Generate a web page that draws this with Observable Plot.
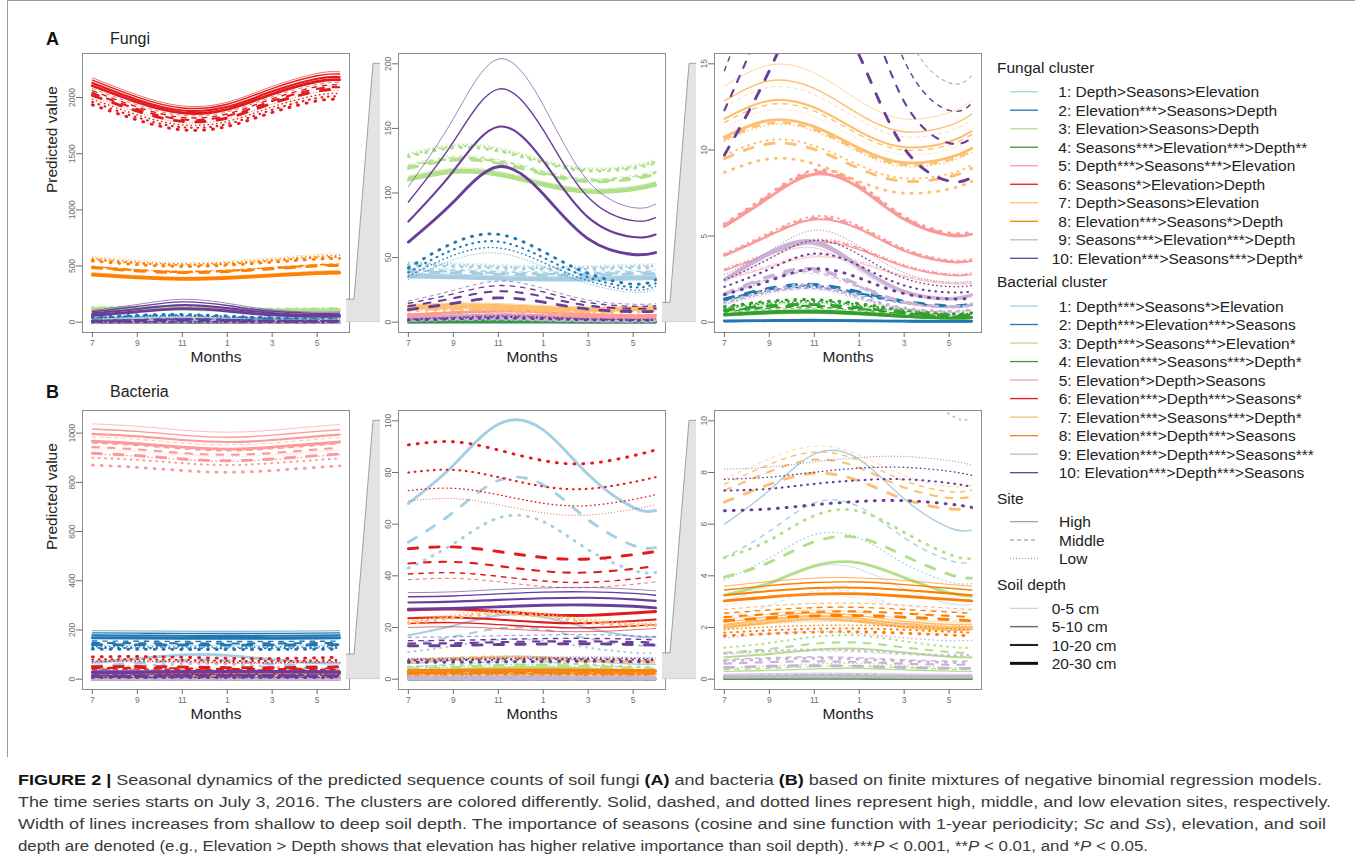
<!DOCTYPE html>
<html><head><meta charset="utf-8">
<script src="https://cdn.jsdelivr.net/npm/d3@7"></script>
<script src="https://cdn.jsdelivr.net/npm/@observablehq/plot@0.6"></script>
<style>
body{margin:0;background:#fff;font-family:"Liberation Sans",Arial,sans-serif;}
#root{position:relative;width:1355px;height:860px;overflow:hidden;background:#fff;}
#root svg{position:absolute;}
</style></head><body><div id="root"></div>
<script>
// ---------- data ----------
const sampleMonths = [0, 2, 4, 6, 8, 10, 11];          // months after July 3, 2016
const monthTicks = [0, 2, 4, 6, 8, 10];
const monthLabels = ["7", "9", "11", "1", "3", "5"];
const sites = ["High", "Middle", "Low"];
const depths = ["0-5 cm", "5-10 cm", "10-20 cm", "20-30 cm"];
const clusterColors = ["#a6cee3","#1f78b4","#b2df8a","#33a02c","#fb9a99","#e31a1c","#fdbf6f","#ff7f00","#cab2d6","#6a3d9a"];
const fungalClusterLabels = ["1: Depth>Seasons>Elevation","2: Elevation***>Seasons>Depth","3: Elevation>Seasons>Depth","4: Seasons***>Elevation***>Depth**","5: Depth***>Seasons***>Elevation","6: Seasons*>Elevation>Depth","7: Depth>Seasons>Elevation","8: Elevation***>Seasons*>Depth","9: Seasons***>Elevation***>Depth","10: Elevation***>Seasons***>Depth*"];
const bacterialClusterLabels = ["1: Depth***>Seasons*>Elevation","2: Depth***>Elevation***>Seasons","3: Depth***>Seasons**>Elevation*","4: Elevation***>Seasons***>Depth*","5: Elevation*>Depth>Seasons","6: Elevation***>Depth***>Seasons*","7: Elevation***>Seasons***>Depth*","8: Elevation***>Depth***>Seasons","9: Elevation***>Depth***>Seasons***","10: Elevation***>Depth***>Seasons"];
const fungiYTicks = [[0,500,1000,1500,2000],[0,50,100,150,200],[0,5,10,15]];
const bactYTicks = [[0,200,400,600,800,1000],[0,20,40,60,80,100],[0,2,4,6,8,10]];
const fungiYLim = [2300, 200, 15];
const bactYLim = [1050, 100, 10];

// rows: High 0-5,5-10,10-20,20-30 | Middle ... | Low ... ; values at sampleMonths
const fungi1 = [
[38,37.2,36.1,35.3,35.5,36.3,36.7],[37,36.3,35.2,34.4,34.6,35.3,35.7],[36,35.3,34.2,33.5,33.7,34.4,34.7],[35,34.3,33.3,32.6,32.7,33.4,33.8],
[42,41.2,39.9,39.1,39.3,40.1,40.5],[41,40.2,39,38.1,38.3,39.2,39.6],[40,39.2,38,37.2,37.4,38.2,38.6],[39,38.2,37.1,36.3,36.5,37.2,37.6],
[47,46.1,44.7,43.7,43.9,44.9,45.4],[46,45.1,43.7,42.8,43,43.9,44.4],[45,44.1,42.8,41.9,42.1,43,43.4],[44,43.1,41.8,40.9,41.1,42,42.5]];
const fungi2 = [
[0.05,0.07,0.08,0.07,0.05,0.04,0.04],[0.055,0.08,0.09,0.07,0.05,0.04,0.04],[0.06,0.09,0.1,0.08,0.05,0.04,0.05],[0.065,0.09,0.11,0.08,0.06,0.05,0.05],
[1.2,1.75,1.94,1.56,1.08,0.84,0.94],[1.25,1.83,2.03,1.63,1.13,0.88,0.98],[1.3,1.9,2.11,1.69,1.17,0.91,1.01],[1.35,1.97,2.19,1.76,1.22,0.95,1.05],
[33,48.2,53.5,42.9,29.7,23.1,25.7],[35.5,51.8,57.5,46.2,32,24.9,27.7],[38.5,56.2,62.4,50,34.7,27,30],[42,61.3,68,54.6,37.8,29.4,32.8]];
const fungi3 = [
[113,119.1,116.8,108.8,103.3,105.2,108.8],[112,118,115.8,107.9,102.4,104.3,107.9],[111,117,114.8,106.9,101.5,103.3,106.9],[110,115.9,113.7,105.9,100.5,102.4,105.9],
[122,128.6,126.1,117.5,111.5,113.6,117.5],[121,127.5,125.1,116.5,110.6,112.7,116.5],[120,126.5,124.1,115.6,109.7,111.7,115.6],[119,125.4,123,114.6,108.8,110.8,114.6],
[131,138.1,135.5,126.2,119.7,122,126.2],[130,137,134.4,125.2,118.8,121,125.2],[129,136,133.4,124.2,117.9,120.1,124.2],[128,134.9,132.4,123.3,117,119.2,123.3]];
const fungi4 = [
[0.35,0.47,0.51,0.42,0.28,0.19,0.21],[0.38,0.51,0.55,0.46,0.3,0.21,0.23],[0.42,0.57,0.61,0.5,0.34,0.23,0.25],[0.45,0.61,0.65,0.54,0.36,0.25,0.27],
[0.55,0.74,0.8,0.66,0.44,0.3,0.33],[0.6,0.81,0.87,0.72,0.48,0.33,0.36],[0.65,0.88,0.94,0.78,0.52,0.36,0.39],[0.7,0.95,1.02,0.84,0.56,0.39,0.42],
[0.75,1.01,1.09,0.9,0.6,0.41,0.45],[0.8,1.08,1.16,0.96,0.64,0.44,0.48],[0.85,1.15,1.23,1.02,0.68,0.47,0.51],[0.9,1.22,1.31,1.08,0.72,0.5,0.54]];
const fungi5 = [
[2.45,3.2,3.79,3.44,2.64,2.22,2.26],[3,3.92,4.64,4.22,3.23,2.72,2.76],[3.85,5.03,5.96,5.41,4.14,3.5,3.55],[5.55,7.25,8.59,7.8,5.97,5.04,5.11],
[2.5,3.27,3.87,3.51,2.69,2.27,2.3],[3.05,3.98,4.72,4.29,3.28,2.77,2.81],[3.9,5.09,6.04,5.48,4.2,3.54,3.59],[5.62,7.34,8.7,7.9,6.05,5.1,5.18],
[2.55,3.33,3.95,3.58,2.74,2.32,2.35],[3.1,4.05,4.8,4.36,3.34,2.81,2.86],[3.97,5.18,6.15,5.58,4.27,3.6,3.66],[5.7,7.44,8.82,8.01,6.13,5.18,5.25]];
const fungi6 = [
[2175,2023,1925,1958,2099,2214,2229],[2155,2004,1907,1940,2080,2194,2209],[2130,1981,1885,1917,2055,2168,2183],[2105,1958,1863,1895,2031,2143,2158],
[2080,1934,1841,1872,2007,2117,2132],[2060,1916,1823,1854,1988,2097,2112],[2040,1897,1805,1836,1969,2077,2091],[2020,1879,1788,1818,1949,2056,2071],
[2010,1869,1779,1809,1940,2046,2060],[1985,1846,1757,1787,1916,2021,2035],[1960,1823,1735,1764,1891,1995,2009],[1935,1800,1712,1742,1867,1970,1983]];
const fungi7 = [
[13.7,14.93,14.47,12.86,11.8,12.17,12.86],[12.85,14.01,13.57,12.07,11.06,11.41,12.07],[11.8,12.86,12.46,11.08,10.16,10.48,11.08],[10.75,11.72,11.35,10.09,9.26,9.55,10.09],
[12.5,13.63,13.2,11.74,10.76,11.1,11.74],[11.6,12.64,12.25,10.89,9.99,10.3,10.89],[10.6,11.55,11.19,9.95,9.13,9.41,9.95],[9.5,10.36,10.03,8.92,8.18,8.44,8.92],
[11.3,12.32,11.93,10.61,9.73,10.03,10.61],[10.5,11.45,11.09,9.86,9.04,9.32,9.86],[9.7,10.57,10.24,9.11,8.35,8.61,9.11],[8.7,9.48,9.19,8.17,7.49,7.73,8.17]];
const fungi8 = [
[440,414,400,409,431,453,458],[432,406,393,402,423,445,449],[426,400,388,396,417,439,443],[420,395,382,391,412,433,437],
[500,470,455,465,490,515,520],[495,465,450,460,485,510,515],[490,461,446,456,480,505,510],[485,456,441,451,475,500,504],
[585,550,532,544,573,603,608],[570,536,519,530,559,587,593],[558,525,508,519,547,575,580],[545,512,496,507,534,561,567]];
const fungi9 = [
[2.3,3.73,4.32,2.99,1.66,1.27,1.47],[2.4,3.89,4.51,3.12,1.73,1.32,1.54],[2.45,3.97,4.61,3.19,1.76,1.35,1.57],[2.5,4.05,4.7,3.25,1.8,1.38,1.6],
[1.5,2.43,2.82,1.95,1.08,0.83,0.96],[1.55,2.51,2.91,2.02,1.12,0.85,0.99],[1.6,2.59,3.01,2.08,1.15,0.88,1.02],[1.65,2.67,3.1,2.15,1.19,0.91,1.06],
[1,1.62,1.88,1.3,0.72,0.55,0.64],[1.05,1.7,1.97,1.37,0.76,0.58,0.67],[1.1,1.78,2.07,1.43,0.79,0.61,0.7],[1.15,1.86,2.16,1.5,0.83,0.63,0.74]];
const fungi10 = [
[105,157.5,203.7,168,109.2,88.7,91.4],[93,139.5,180.4,148.8,96.7,78.6,80.9],[78,117,151.3,124.8,81.1,65.9,67.9],[62,93,120.3,99.2,64.5,52.4,53.9],
[16.4,24.6,31.8,26.2,17.1,13.9,14.3],[14.6,21.9,28.3,23.4,15.2,12.3,12.7],[12.3,18.5,23.9,19.7,12.8,10.4,10.7],[9.7,14.6,18.8,15.5,10.1,8.2,8.4],
[2.75,4.13,5.34,4.4,2.86,2.32,2.39],[2.45,3.68,4.75,3.92,2.55,2.07,2.13],[2.05,3.08,3.98,3.28,2.13,1.73,1.78],[1.6,2.4,3.1,2.56,1.66,1.35,1.39]];

const bact1 = [
[3,3.65,4.35,4.26,3.49,2.93,2.88],[6,7.31,8.71,8.51,6.98,5.87,5.77],[17,20.7,24.7,24.1,19.8,16.6,16.3],[68,82.8,98.7,96.5,79.2,66.5,65.3],
[2.35,2.86,3.41,3.33,2.74,2.3,2.26],[4.7,5.72,6.82,6.67,5.47,4.6,4.52],[13.5,16.4,19.6,19.2,15.7,13.2,13],[53,64.6,76.9,75.2,61.7,51.8,50.9],
[1.9,2.31,2.76,2.7,2.21,1.86,1.83],[3.85,4.69,5.59,5.46,4.48,3.77,3.7],[10.5,12.8,15.2,14.9,12.2,10.27,10.09],[43,52.4,62.4,61,50.1,42.1,41.3]];
const bact2 = [
[197,196,195,194.6,195,196,197],[188,187.1,186.1,185.7,186.1,187.1,188],[178,177.1,176.2,175.9,176.2,177.1,178],[168,167.2,166.3,166,166.3,167.2,168],
[165,164.2,163.4,163,163.4,164.2,165],[155,154.2,153.5,153.1,153.5,154.2,155],[147,146.3,145.5,145.2,145.5,146.3,147],[140,139.3,138.6,138.3,138.6,139.3,140],
[138,137.3,136.6,136.3,136.6,137.3,138],[132,131.3,130.7,130.4,130.7,131.3,132],[127,126.4,125.7,125.5,125.7,126.4,127],[122,121.4,120.8,120.5,120.8,121.4,122]];
const bact3 = [
[0.12,0.14,0.16,0.17,0.15,0.12,0.12],[0.3,0.34,0.4,0.42,0.36,0.31,0.3],[0.85,0.97,1.14,1.18,1.03,0.87,0.84],[3.25,3.72,4.38,4.5,3.93,3.34,3.22],
[0.15,0.17,0.2,0.21,0.18,0.15,0.15],[0.37,0.42,0.5,0.51,0.45,0.38,0.37],[1.02,1.17,1.37,1.41,1.23,1.05,1.01],[3.95,4.52,5.32,5.47,4.78,4.06,3.91],
[0.18,0.21,0.24,0.25,0.22,0.19,0.18],[0.44,0.5,0.59,0.61,0.53,0.45,0.44],[1.22,1.4,1.64,1.69,1.47,1.25,1.21],[4.7,5.38,6.33,6.5,5.68,4.83,4.66]];
const bact4 = [
[0.015,0.018,0.02,0.02,0.017,0.014,0.014],[0.02,0.024,0.027,0.026,0.022,0.019,0.019],[0.025,0.03,0.034,0.033,0.028,0.024,0.024],[0.03,0.036,0.041,0.039,0.033,0.029,0.029],
[0.04,0.048,0.054,0.052,0.044,0.038,0.038],[0.045,0.054,0.061,0.059,0.05,0.043,0.043],[0.05,0.06,0.068,0.065,0.055,0.048,0.048],[0.055,0.066,0.074,0.072,0.061,0.052,0.052],
[0.07,0.084,0.095,0.091,0.077,0.067,0.067],[0.08,0.096,0.108,0.104,0.088,0.076,0.076],[0.09,0.108,0.122,0.117,0.099,0.086,0.086],[0.1,0.12,0.135,0.13,0.11,0.095,0.095]];
const bact5 = [
[1038,1028,1012,1004,1012,1028,1035],[1017,1007,992,983,992,1007,1014],[997,987,972,964,972,987,994],[967,957,943,935,943,957,964],
[985,975,960,953,960,975,982],[960,950,936,928,936,950,957],[943,934,919,912,919,934,940],[918,909,895,888,895,909,915],
[935,926,912,904,912,926,932],[915,906,892,885,892,906,912],[900,891,878,870,878,891,897],[870,861,848,841,848,861,867]];
const bact6 = [
[20,20.3,19.6,18.7,18.4,19.1,19.6],[21.6,21.9,21.1,20.2,19.9,20.6,21.1],[23.6,23.9,23.1,22,21.7,22.5,23.1],[26.8,27.1,26.2,25,24.7,25.6,26.2],
[38.5,39,37.7,35.9,35.5,36.7,37.7],[40.7,41.2,39.8,38,37.5,38.8,39.8],[44.8,45.4,43.8,41.8,41.3,42.7,43.8],[50.5,51.2,49.4,47.1,46.5,48.2,49.4],
[69,69.9,67.5,64.4,63.5,65.8,67.5],[73,73.9,71.4,68.1,67.2,69.6,71.4],[80,81,78.2,74.6,73.7,76.3,78.2],[90.7,91.9,88.7,84.6,83.5,86.5,88.7]];
const bact7 = [
[2.3,2.53,2.68,2.58,2.34,2.21,2.23],[2.2,2.42,2.56,2.46,2.24,2.12,2.13],[2.1,2.31,2.44,2.35,2.14,2.02,2.03],[2,2.2,2.33,2.24,2.03,1.92,1.94],
[7.75,8.53,9.02,8.68,7.88,7.46,7.51],[7.55,8.31,8.79,8.46,7.68,7.26,7.32],[7.3,8.03,8.5,8.18,7.42,7.02,7.07],[6.85,7.54,7.97,7.67,6.97,6.59,6.64],
[23,25.3,26.8,25.8,23.4,22.1,22.3],[22.5,24.8,26.2,25.2,22.9,21.6,21.8],[22,24.2,25.6,24.6,22.4,21.2,21.3],[21.5,23.7,25,24.1,21.9,20.7,20.8]];
const bact8 = [
[3.6,3.78,3.91,3.92,3.82,3.67,3.6],[3.45,3.62,3.74,3.76,3.66,3.52,3.45],[3.25,3.41,3.53,3.54,3.45,3.32,3.25],[3.03,3.18,3.29,3.3,3.21,3.09,3.03],
[2.7,2.84,2.93,2.94,2.86,2.75,2.7],[2.55,2.68,2.77,2.78,2.7,2.6,2.55],[2.4,2.52,2.6,2.62,2.54,2.45,2.4],[2.26,2.37,2.45,2.46,2.4,2.31,2.26],
[2.05,2.15,2.22,2.23,2.17,2.09,2.05],[1.92,2.02,2.08,2.09,2.04,1.96,1.92],[1.8,1.89,1.95,1.96,1.91,1.84,1.8],[1.68,1.76,1.82,1.83,1.78,1.71,1.68]];
const bact9 = [
[0.2,0.22,0.23,0.22,0.2,0.19,0.19],[0.14,0.15,0.16,0.15,0.14,0.13,0.13],[0.1,0.11,0.12,0.11,0.1,0.09,0.09],[0.07,0.08,0.08,0.08,0.07,0.07,0.07],
[0.95,1.05,1.09,1.05,0.95,0.88,0.89],[0.75,0.83,0.86,0.83,0.75,0.7,0.71],[0.6,0.66,0.69,0.66,0.6,0.56,0.56],[0.45,0.5,0.52,0.5,0.45,0.42,0.42],
[2.85,3.14,3.28,3.14,2.85,2.65,2.68],[1.6,1.76,1.84,1.76,1.6,1.49,1.5],[1,1.1,1.15,1.1,1,0.93,0.94],[0.7,0.77,0.81,0.77,0.7,0.65,0.66]];
const bact10 = [
[33.5,33.8,34.7,35.3,35.5,34.8,34.2],[31.9,32.2,33,33.7,33.8,33.2,32.5],[29.7,30,30.7,31.3,31.5,30.9,30.3],[27.1,27.4,28,28.6,28.7,28.2,27.6],
[16.2,16.4,16.8,17.1,17.2,16.8,16.5],[14.9,15,15.4,15.7,15.8,15.5,15.2],[13.8,13.9,14.3,14.6,14.6,14.4,14.1],[12.9,13,13.4,13.6,13.7,13.4,13.2],
[8.13,8.21,8.41,8.58,8.62,8.46,8.29],[7.74,7.82,8.01,8.17,8.2,8.05,7.89],[7.3,7.37,7.56,7.7,7.74,7.59,7.45],[6.52,6.59,6.75,6.88,6.91,6.78,6.65]];

const fungiClusters = [fungi1,fungi2,fungi3,fungi4,fungi5,fungi6,fungi7,fungi8,fungi9,fungi10];
const bactClusters = [bact1,bact2,bact3,bact4,bact5,bact6,bact7,bact8,bact9,bact10];

// ---------- layout ----------
const root = document.getElementById("root");
const FW = 267, FH = 279;
const colX = [82, 398, 714];
const rowY = [53, 410];
const M = {l: 52, r: 6, t: 6, b: 45};
const depthWidths = [0.8, 1.4, 2.1, 2.9];
const FONT = "'Liberation Sans', Arial, Helvetica, sans-serif";

function dashFor(site, w) {
  const u = Math.max(w, 1);
  if (site === "Middle") return `${(3.2*u).toFixed(2)},${(4.2*u).toFixed(2)}`;
  if (site === "Low") return `${(0.35*u).toFixed(2)},${(2.7*u).toFixed(2)}`;
  return null;
}

function makePanel(clusters, ylim, ticks, yLabel, fx, fy) {
  const marks = [];
  clusters.forEach((rows, k) => rows.forEach((vals, i) => {
    const site = sites[Math.floor(i / 4)], d = i % 4, w = depthWidths[d];
    const opts = {x: "month", y: "value", stroke: clusterColors[k], strokeWidth: w,
      curve: "natural", clip: true, strokeLinecap: "round", strokeLinejoin: "round"};
    const da = dashFor(site, w);
    if (da) opts.strokeDasharray = da;
    if (d === 0) opts.strokeOpacity = 0.8;
    marks.push(Plot.line(vals.map((v, j) => ({month: sampleMonths[j], value: v})), opts));
  }));
  marks.push(Plot.frame({stroke: "#8c8c8c", strokeWidth: 1}));
  marks.push(Plot.axisX(monthTicks, {tickSize: 5, tickPadding: 2, fontSize: 8.5, color: "#6e6e6e",
    tickFormat: d => monthLabels[monthTicks.indexOf(d)], label: null}));
  marks.push(Plot.axisY(ticks, {tickSize: 6, tickPadding: 2, tickRotate: -90, fontSize: 8.5, color: "#6e6e6e",
    tickFormat: d => String(d), label: null}));
  marks.push(Plot.text(["Months"], {text: d => d, frameAnchor: "bottom", dy: 25, fontSize: 15.5, fill: "#222", lineAnchor: "middle"}));
  if (yLabel) marks.push(Plot.text(["Predicted value"], {text: d => d, frameAnchor: "left", dx: -30, rotate: -90, fontSize: 15.5, fill: "#222", lineAnchor: "middle"}));
  const p = Plot.plot({
    width: FW + M.l + M.r, height: FH + M.t + M.b,
    marginLeft: M.l, marginRight: M.r, marginTop: M.t, marginBottom: M.b,
    x: {domain: [-0.44, 11.44]},
    y: {domain: [-0.04 * ylim, 1.04 * ylim]},
    style: {fontFamily: FONT, background: "transparent", overflow: "visible"},
    marks
  });
  p.style.left = (fx - M.l) + "px";
  p.style.top = (fy - M.t) + "px";
  root.appendChild(p);
  return p;
}

const panels = [];
[[fungiClusters, fungiYLim, fungiYTicks], [bactClusters, bactYLim, bactYTicks]].forEach(([cl, lims, tks], r) => {
  panels[r] = lims.map((L, c) => makePanel(cl, L, tks[c], c === 0, colX[c], rowY[r]));
});

// ---------- overlay: figure border, zoom connectors, panel titles, legend ----------
const NS = "http://www.w3.org/2000/svg";
const ov = document.createElementNS(NS, "svg");
ov.setAttribute("width", 1355); ov.setAttribute("height", 760);
ov.style.left = "0px"; ov.style.top = "0px";
ov.style.fontFamily = FONT;
root.appendChild(ov);
function el(tag, attrs, parent = ov) {
  const e = document.createElementNS(NS, tag);
  for (const k in attrs) e.setAttribute(k, attrs[k]);
  parent.appendChild(e);
  return e;
}
function txt(x, y, s, attrs = {}) {
  const t = el("text", Object.assign({x, y, "dominant-baseline": "central", fill: "#222", "font-size": 15.5}, attrs));
  t.textContent = s;
  return t;
}

// figure border (left and top edges)
el("polyline", {points: "7.5,757 7.5,0.5 1355,0.5", fill: "none", stroke: "#9a9a9a", "stroke-width": 1});

// connectors computed from the scales of neighbouring panels
[fungiYLim, bactYLim].forEach((lims, r) => {
  for (let c = 0; c < 2; c++) {
    const pa = panels[r][c], pb = panels[r][c + 1];
    const zmax = lims[c + 1];
    const ya = pa.scale("y"), yb = pb.scale("y");
    const topA = rowY[r] - M.t + ya.apply(zmax);
    const botA = rowY[r] - M.t + ya.apply(0);
    const topB = rowY[r] - M.t + yb.apply(zmax);
    const A = colX[c] + FW, B = colX[c + 1];
    const pts = [[A - 3, topA], [A + 5, topA], [B - 25, topB], [B - 18, topB], [B - 18, botA], [A - 3, botA]];
    el("polygon", {points: pts.map(p => p.join(",")).join(" "), fill: "#e3e3e3", stroke: "none"});
    el("polyline", {points: [[A - 3, topA], [A + 5, topA], [B - 25, topB], [B - 18, topB]].map(p => p.join(",")).join(" "),
      fill: "none", stroke: "#8c8c8c", "stroke-width": 0.8});
    el("polyline", {points: [[A - 3, botA], [B - 18, botA]].map(p => p.join(",")).join(" "), fill: "none", stroke: "#bdbdbd", "stroke-width": 0.6});
  }
});

// panel letters and titles
txt(46, 39, "A", {"font-size": 18, "font-weight": "bold", fill: "#111"});
txt(110, 38.5, "Fungi", {"font-size": 16});
txt(46, 392, "B", {"font-size": 18, "font-weight": "bold", fill: "#111"});
txt(110, 391.5, "Bacteria", {"font-size": 16});

// legend
function swatch(y, attrs) {
  el("line", Object.assign({x1: 1010, x2: 1038, y1: y, y2: y}, attrs));
}
txt(997, 67.3, "Fungal cluster");
fungalClusterLabels.forEach((s, i) => {
  const y = 91.7 + i * 18.51;
  swatch(y, {stroke: clusterColors[i], "stroke-width": 1.3});
  txt(i === 9 ? 1051.7 : 1058.3, y, s);
});
txt(997, 281.7, "Bacterial cluster");
bacterialClusterLabels.forEach((s, i) => {
  const y = 306 + i * 18.52;
  swatch(y, {stroke: clusterColors[i], "stroke-width": 1.3});
  txt(1058.7, y, s);
});
txt(997, 498.3, "Site");
const siteDash = [null, "4,3", "1,2"];
sites.forEach((s, i) => {
  const y = 521.7 + i * 18.3;
  const a = {stroke: "#8a8a8a", "stroke-width": 1};
  if (siteDash[i]) a["stroke-dasharray"] = siteDash[i];
  swatch(y, a);
  txt(1059, y, s);
});
txt(997, 584, "Soil depth");
const depthSw = [["#c9c9c9", 1.1], ["#6e6e6e", 1.5], ["#222", 2.1], ["#111", 3]];
depths.forEach((s, i) => {
  const y = 608.3 + i * 18.35;
  swatch(y, {stroke: depthSw[i][0], "stroke-width": depthSw[i][1]});
  txt(1051.7, y, s);
});

// ---------- caption ----------
const cap = document.createElementNS(NS, "svg");
cap.setAttribute("width", 1355); cap.setAttribute("height", 100);
cap.style.left = "0px"; cap.style.top = "760px";
cap.style.fontFamily = FONT;
root.appendChild(cap);
const captionLines = [
  {w: 1304, parts: [["FIGURE 2 |", "b"], [" Seasonal dynamics of the predicted sequence counts of soil fungi "], ["(A)", "b"], [" and bacteria "], ["(B)", "b"], [" based on finite mixtures of negative binomial regression models."]]},
  {w: 1313, parts: [["The time series starts on July 3, 2016. The clusters are colored differently. Solid, dashed, and dotted lines represent high, middle, and low elevation sites, respectively."]]},
  {w: 1308, parts: [["Width of lines increases from shallow to deep soil depth. The importance of seasons (cosine and sine function with 1-year periodicity; "], ["Sc", "i"], [" and "], ["Ss", "i"], ["), elevation, and soil"]]},
  {w: 1130, parts: [["depth are denoted (e.g., Elevation > Depth shows that elevation has higher relative importance than soil depth). ***"], ["P", "i"], [" < 0.001, **"], ["P", "i"], [" < 0.01, and *"], ["P", "i"], [" < 0.05."]]}
];
captionLines.forEach((ln, i) => {
  const t = el("text", {x: 18, y: 24.5 + i * 22, "font-size": 15.5, fill: "#3a3a3a", textLength: ln.w, lengthAdjust: "spacingAndGlyphs"}, cap);
  ln.parts.forEach(([s, f]) => {
    const sp = el("tspan", {}, t);
    if (f === "b") { sp.setAttribute("font-weight", "bold"); sp.setAttribute("fill", "#111"); }
    if (f === "i") sp.setAttribute("font-style", "italic");
    sp.textContent = s;
  });
});
</script>
</body></html>
